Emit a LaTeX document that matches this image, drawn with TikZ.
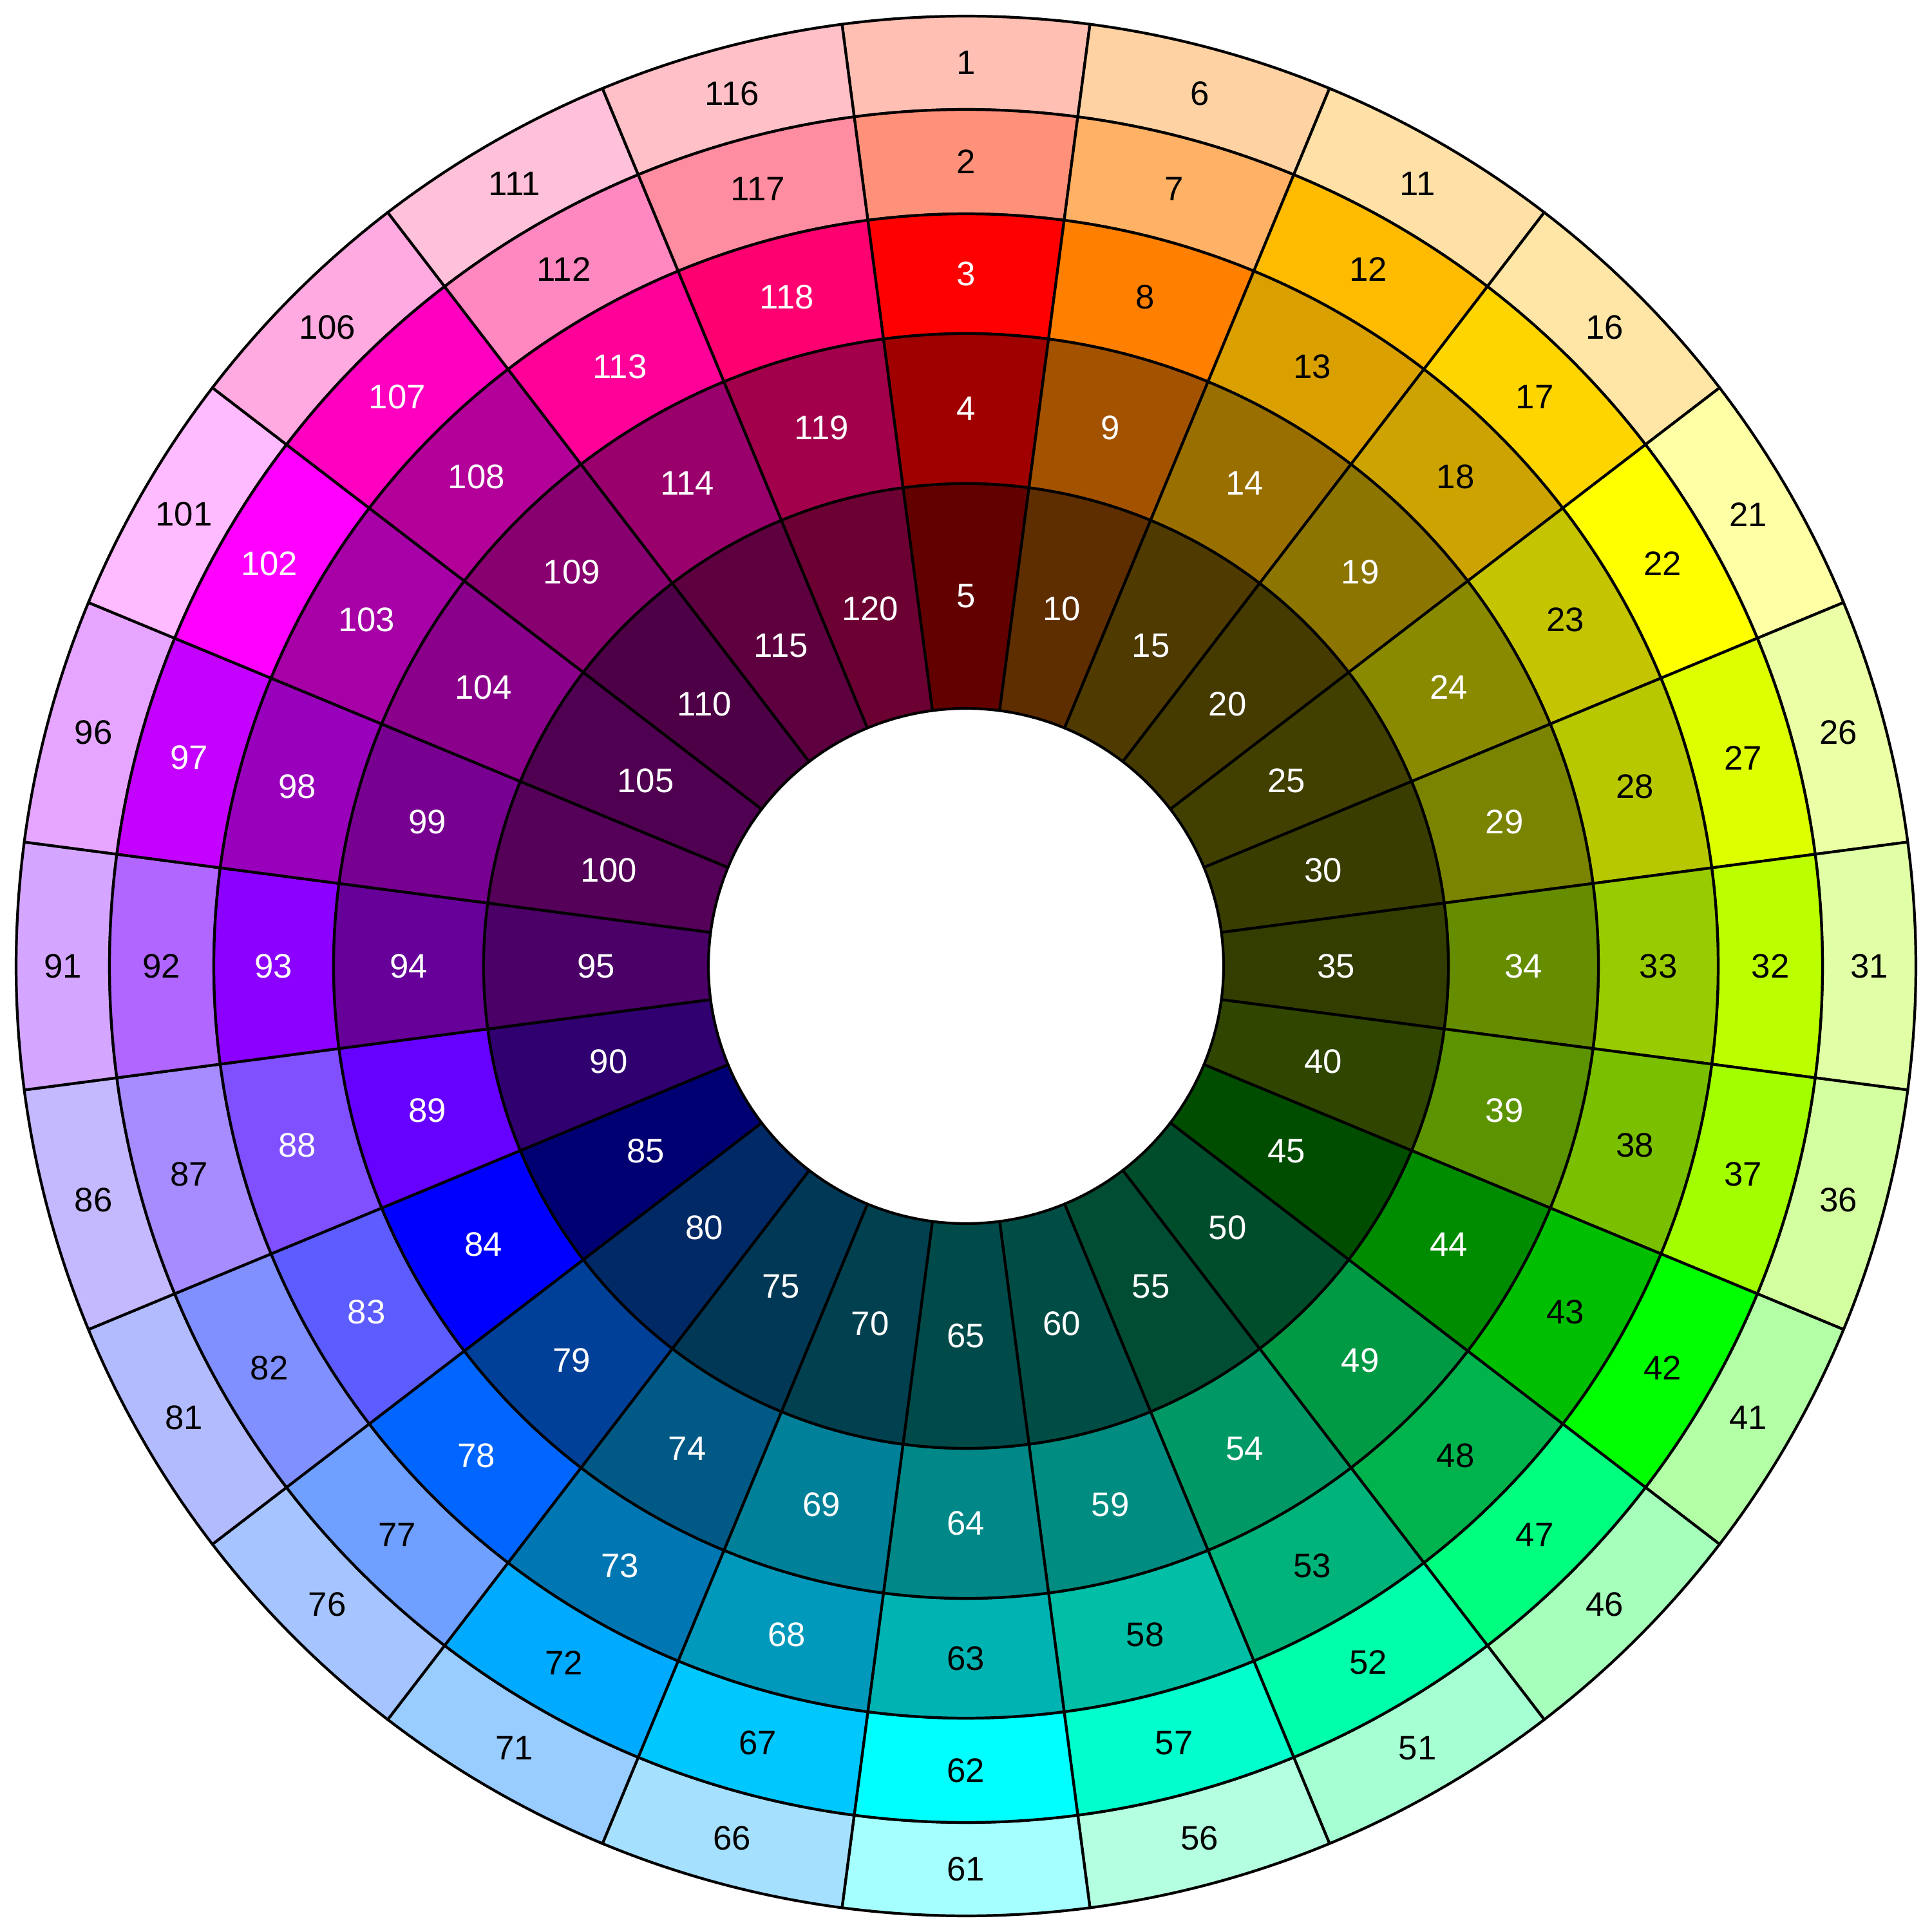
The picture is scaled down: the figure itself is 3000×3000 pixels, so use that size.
\documentclass[tikz,border=0pt]{standalone}
\usepackage{fontspec}
\setmainfont{Liberation Sans}
\begin{document}
\begin{tikzpicture}[x=0.01cm,y=0.01cm,
  cell/.style={draw=black,line width=1.2pt,line join=round},
  lbl/.style={inner sep=0pt,font=\fontsize{15}{18}\selectfont}]
\useasboundingbox (-1500,-1500) rectangle (1500,1500);
\foreach \n/\hex/\tc in {
1/FFBFB3/black,2/FF917A/black,3/FF0000/white,4/A00000/white,5/620000/white,
6/FFD2A3/black,7/FFB266/black,8/FF8000/black,9/A35200/white,10/5E2D00/white,
11/FFE0A6/black,12/FFBB00/black,13/D9A000/black,14/997000/white,15/4F3B00/white,
16/FFE6A6/black,17/FFD500/black,18/CCA300/black,19/8C7500/white,20/453A00/white,
21/FFFFA6/black,22/FFFF00/black,23/C4C400/black,24/8A8A00/white,25/424000/white,
26/EAFFA6/black,27/DDFF00/black,28/B8C800/black,29/7A8400/white,30/3A3D00/white,
31/E0FFA6/black,32/BBFF00/black,33/99CC00/black,34/668C00/white,35/333D00/white,
36/D4FFA0/black,37/A3FF00/black,38/7AC000/black,39/5C9300/white,40/304500/white,
41/B3FFA6/black,42/00FF00/black,43/00BF00/black,44/008C00/white,45/004D00/white,
46/A6FFBB/black,47/00FF7F/black,48/00B34D/black,49/009944/white,50/004D2B/white,
51/A6FFD2/black,52/00FFAA/black,53/00B37A/black,54/009966/white,55/004D33/white,
56/B3FFE0/black,57/00FFCC/black,58/00BFA6/black,59/008C80/white,60/004D45/white,
61/A6FFFF/black,62/00FFFF/black,63/00B3B3/black,64/008888/white,65/004A4A/white,
66/A6E0FF/black,67/00C8FF/black,68/0099BB/white,69/008099/white,70/00404F/white,
71/99CCFF/black,72/00AAFF/black,73/0077B3/white,74/005A85/white,75/003855/white,
76/A6C4FF/black,77/70A0FF/black,78/0066FF/white,79/004099/white,80/002966/white,
81/B3BBFF/black,82/8090FF/black,83/5C5CFF/white,84/0000FF/white,85/000073/white,
86/C4B8FF/black,87/A68CFF/black,88/8050FF/white,89/6600FF/white,90/300070/white,
91/D4A6FF/black,92/B066FF/black,93/8C00FF/white,94/660099/white,95/4A0066/white,
96/E6A6FF/black,97/C400FF/white,98/9900BB/white,99/770090/white,100/550059/white,
101/FFBBFF/black,102/FF00FF/white,103/A600A6/white,104/8A008A/white,105/500050/white,
106/FFAAE0/black,107/FF00C0/white,108/B30099/white,109/880070/white,110/4D0045/white,
111/FFC0DA/black,112/FF88C0/black,113/FF0099/white,114/99006B/white,115/5E0040/white,
116/FFC0C8/black,117/FF8DA1/black,118/FF0070/white,119/A3004B/white,120/6D0033/white}{
  \pgfmathtruncatemacro\kk{(\n-1)/5}
  \pgfmathtruncatemacro\jj{\n-1-5*\kk}
  \pgfmathsetmacro\rOut{{1475,1330,1168,982,749}[\jj]}
  \pgfmathsetmacro\rIn{{1330,1168,982,749,400}[\jj]}
  \pgfmathsetmacro\rMid{(\rOut+\rIn)/2}
  \pgfmathsetmacro\angA{97.5-15*\kk}
  \pgfmathsetmacro\angB{82.5-15*\kk}
  \pgfmathsetmacro\angM{90-15*\kk}
  \definecolor{cellcol}{HTML}{\hex}
  \filldraw[cell,fill=cellcol] (\angA:\rOut) arc[start angle=\angA,end angle=\angB,radius=\rOut]
     -- (\angB:\rIn) arc[start angle=\angB,end angle=\angA,radius=\rIn] -- cycle;
  \node[lbl,text=\tc] (n\n) at (\angM:\rMid) {\n};
}
\end{tikzpicture}
\end{document}
